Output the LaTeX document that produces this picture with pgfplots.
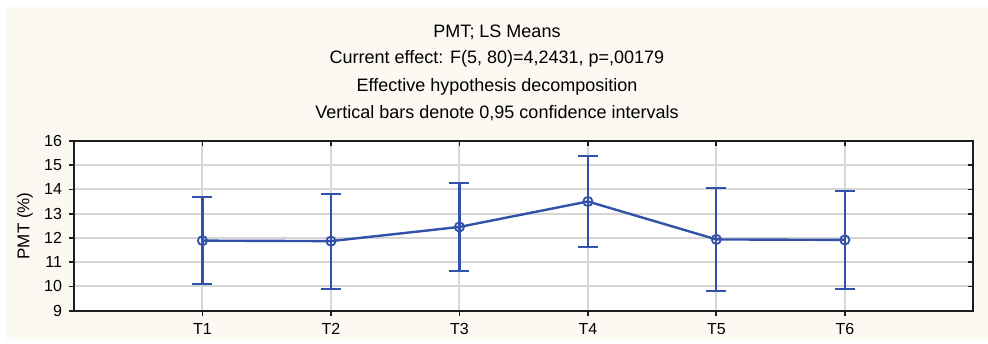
\documentclass[border=0pt]{standalone}
\usepackage{fontspec}
\setmainfont{Liberation Sans}
\usepackage{pgfplots}
\pgfplotsset{compat=1.18}
\definecolor{cream}{RGB}{251,249,242}
\definecolor{lineblue}{RGB}{50,82,170}
\definecolor{gridgrey}{RGB}{214,214,214}
\definecolor{axisblack}{RGB}{30,30,30}
\begin{document}
\begin{tikzpicture}
\fill[white] (0,0) rectangle (494pt,171.5pt);
\fill[cream] (3pt,1.5pt) rectangle (494pt,168pt);
\node[anchor=base,font=\fontsize{9}{11}\selectfont] at (248.5pt,152.85pt) {PMT; LS Means};
\node[anchor=base,font=\fontsize{9}{11}\selectfont] at (248.5pt,139.5pt) {Current effect: F(5, 80)=4,2431, p=,00179};
\node[anchor=base,font=\fontsize{9}{11}\selectfont] at (248.5pt,125.65pt) {Effective hypothesis decomposition};
\node[anchor=base,font=\fontsize{9}{11}\selectfont] at (248.5pt,112pt) {Vertical bars denote 0,95 confidence intervals};
\begin{axis}[
  at={(37pt,16.15pt)}, anchor=south west,
  scale only axis, width=449.65pt, height=84.85pt,
  xmin=0, xmax=7, ymin=9, ymax=16,
  xtick={1,2,3,4,5,6}, xticklabels={T1,T2,T3,T4,T5,T6},
  ytick={9,10,11,12,13,14,15,16},
  xtick pos=left, ytick pos=left, tick align=outside,
  major tick length=2.5pt,
  tick style={axisblack, line width=0.9pt},
  axis background/.style={fill=white},
  axis line style={axisblack, line width=1.1pt},
  grid=major, major grid style={gridgrey, line width=1pt},
  ticklabel style={font=\fontsize{8}{9.5}\selectfont},
  xticklabel style={yshift=-0.5pt},
  /pgf/number format/assume math mode=true,
  ylabel={PMT (\%)},
  ylabel style={at={(axis description cs:-0.0545,0.5)}, anchor=center, font=\fontsize{8.5}{10}\selectfont},
]
\addplot[lineblue, line width=1.2pt, mark=o, mark size=2.3pt,
  mark options={line width=0.9pt},
  error bars/.cd, y dir=both, y explicit,
  error bar style={line width=1.1pt, lineblue},
  error mark options={rotate=90, mark size=5pt, line width=1.1pt, lineblue}]
coordinates {
  (1,11.89) +- (0,1.79)
  (2,11.87) +- (0,1.96)
  (3,12.455) +- (0,1.815)
  (4,13.505) +- (0,1.875)
  (5,11.94) +- (0,2.13)
  (6,11.92) +- (0,2.01)
};
\end{axis}
\begin{axis}[
  at={(37pt,16.15pt)}, anchor=south west,
  scale only axis, width=449.65pt, height=84.85pt,
  xmin=0, xmax=7, ymin=9, ymax=16,
  xtick={1,2,3,4,5,6}, xticklabels={},
  ytick={9,10,11,12,13,14,15,16}, yticklabels={},
  xtick pos=right, ytick pos=right, tick align=inside,
  major tick length=2.5pt,
  tick style={axisblack, line width=0.9pt},
  axis line style={axisblack, line width=1.1pt},
]
\addplot[draw=none] coordinates {(1,12)};
\end{axis}
\end{tikzpicture}
\end{document}
